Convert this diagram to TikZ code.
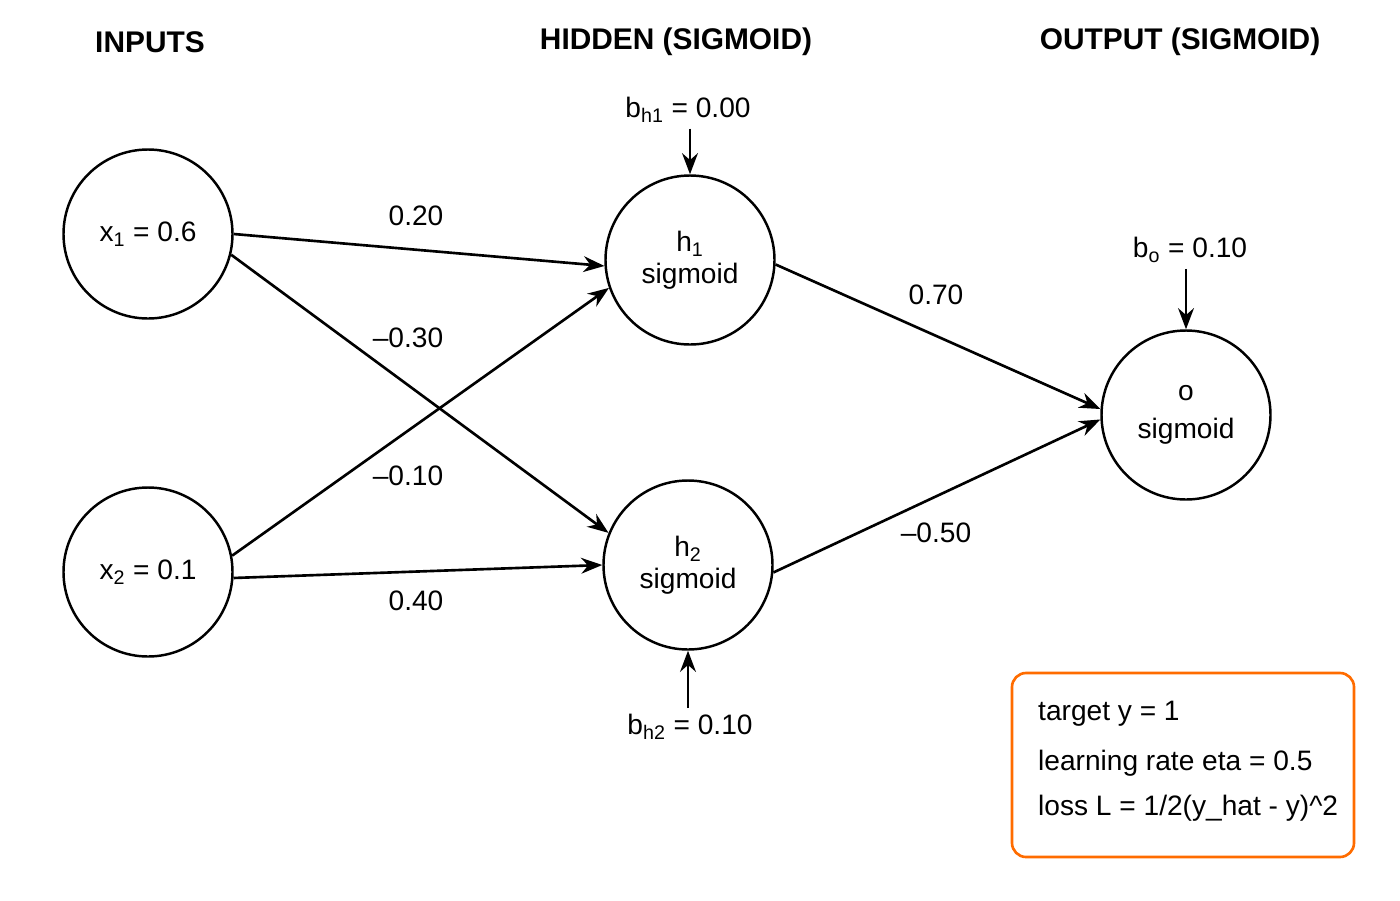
\documentclass[tikz,border=0pt]{standalone}
\usepackage{fontspec}
\setmainfont{Liberation Sans}
\usetikzlibrary{arrows.meta}
\newcommand{\sbs}[1]{\textsubscript{#1}}
\begin{document}
\begin{tikzpicture}[x=0.02cm,y=-0.02cm,
  neuron/.style={circle,draw,line width=1.4pt,minimum size=169*0.02cm,inner sep=0pt,align=center,font=\fontsize{16}{20}\selectfont},
  edge/.style={line width=1.5pt,-{Stealth[length=12pt,width=9pt]}},
  lbl/.style={font=\fontsize{16}{19}\selectfont},
  head/.style={font=\bfseries\fontsize{17}{20}\selectfont}]
\useasboundingbox (0,0) rectangle (1400,900);
\node[head] (t1) at (150,42) {INPUTS};
\node[head] (t2) at (676,42) {HIDDEN (SIGMOID)};
\node[head] (t3) at (1180,42) {OUTPUT (SIGMOID)};
\node[neuron] (x1) at (148,234) {x\sbs{1} = 0.6};
\node[neuron] (x2) at (148,572) {x\sbs{2} = 0.1};
\node[neuron] (h1) at (690,260) {h\sbs{1}\\[-2pt]sigmoid};
\node[neuron] (h2) at (688,565) {h\sbs{2}\\[-2pt]sigmoid};
\node[neuron] (o) at (1186,415) {o\\[2pt]sigmoid};
\draw[edge] (x1.east) -- (h1.184);
\draw[edge] (x1.-14) -- (h2.158);
\draw[edge] (x2.11) -- (h1.199);
\draw[edge] (x2.-4) -- (h2.180);
\draw[edge] (h1.-3) -- (o.176);
\draw[edge] (h2.-5) -- (o.183);
\node[lbl] (w1) at (416,216) {0.20};
\node[lbl] (w2) at (408,338) {–0.30};
\node[lbl] (w3) at (408,476) {–0.10};
\node[lbl] (w4) at (416,601) {0.40};
\node[lbl] (w5) at (936,295) {0.70};
\node[lbl] (w6) at (936,533) {–0.50};
\node[lbl] (bh1) at (688,110) {b\sbs{h1} = 0.00};
\node[lbl] (bo) at (1190,250) {b\sbs{o} = 0.10};
\node[lbl] (bh2) at (690,727) {b\sbs{h2} = 0.10};
\draw[edge] (bh1.south -| h1) -- (h1);
\draw[edge] (bo.south -| o) -- (o);
\coordinate (bh2t) at (688,708);
\draw[edge] (bh2t) -- (h2);
\node[draw=orange!85!red,line width=1.5pt,rounded corners=8pt,minimum width=342*0.02cm,minimum height=184*0.02cm] (box) at (1183,765) {};
\node[lbl,anchor=west] (l1) at (1032,714) {target y = 1};
\node[lbl,anchor=west] (l2) at (1032,763) {learning rate eta = 0.5};
\node[lbl,anchor=west] (l3) at (1032,808) {loss L = 1/2(y\_hat - y)\^{}2};
\end{tikzpicture}
\end{document}
